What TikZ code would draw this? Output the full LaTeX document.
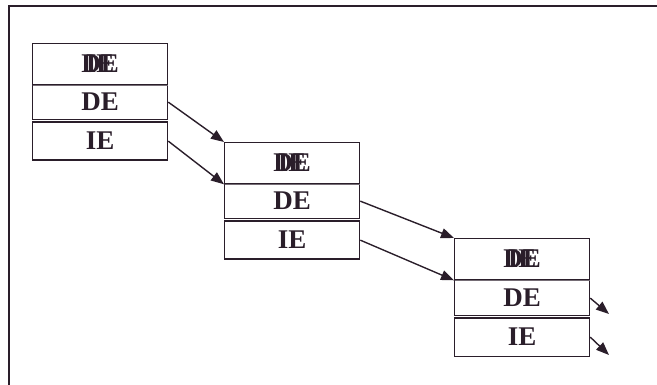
\documentclass[tikz,border=0pt]{standalone}
\usepackage{fontspec}
\setmainfont{Liberation Serif}
\usetikzlibrary{arrows.meta}
\definecolor{ink}{RGB}{42,30,42}
\begin{document}
\begin{tikzpicture}[x=1pt,y=-1pt,
  row/.style={draw=ink,line width=1.3pt,rectangle,minimum width=135pt,anchor=north west,inner sep=0pt,
     font=\fontsize{27}{29}\selectfont\bfseries,text=ink},
  rowa/.style={row,minimum height=41pt},
  rowb/.style={row,minimum height=35pt},
  rowc/.style={row,minimum height=38pt},
  lbl/.style={font=\fontsize{27}{29}\selectfont\bfseries,text=ink,inner sep=0pt},
  link/.style={draw=ink,line width=1.4pt,-{Triangle[length=13pt,width=10pt]}},
  divider/.style={draw=ink!65,line width=1.1pt},
  frame/.style={draw=ink,line width=1.5pt}]
\useasboundingbox (0,0) rectangle (657,385);
\draw[frame] (9,385) -- (9,6) -- (657,6);
% box 1
\node[rowa] (a1) at (32,43) {};
\node[lbl] (a1d) at (a1.center) {DE};
\node[lbl] (a1i) at (a1.center) {IE};
\node[rowb] (a2) at (32,84) {DE};
\node[rowc] (a3) at (32,121.5) {IE};
% box 2
\node[rowa] (b1) at (224,142) {};
\node[lbl] (b1d) at (b1.center) {DE};
\node[lbl] (b1i) at (b1.center) {IE};
\node[rowb] (b2) at (224,183) {DE};
\node[rowc] (b3) at (224,220.5) {IE};
% box 3
\node[rowa] (c1) at (454,238) {};
\node[lbl] (c1d) at (c1.center) {DE};
\node[lbl] (c1i) at (c1.center) {IE};
\node[rowb] (c2) at (454,280) {DE};
\node[rowc] (c3) at (454,317.5) {IE};
% lighter single dividers
\foreach \n in {a1,b1,c1}{
  \draw[white,line width=1.4pt] ([xshift=0.7pt]\n.south west) -- ([xshift=-0.7pt]\n.south east);
  \draw[divider] ([xshift=0.7pt]\n.south west) -- ([xshift=-0.7pt]\n.south east);
}
\coordinate (e1) at (609,314);
\coordinate (e2) at (609,355);
% connectors
\draw[link] (a2.east) -- (b1.north west);
\draw[link] (a3.east) -- (b1.south west);
\draw[link] (b2.east) -- (c1.north west);
\draw[link] (b3.east) -- (c1.south west);
\draw[link] (c2.east) -- (e1);
\draw[link] (c3.east) -- (e2);
\end{tikzpicture}
\end{document}
